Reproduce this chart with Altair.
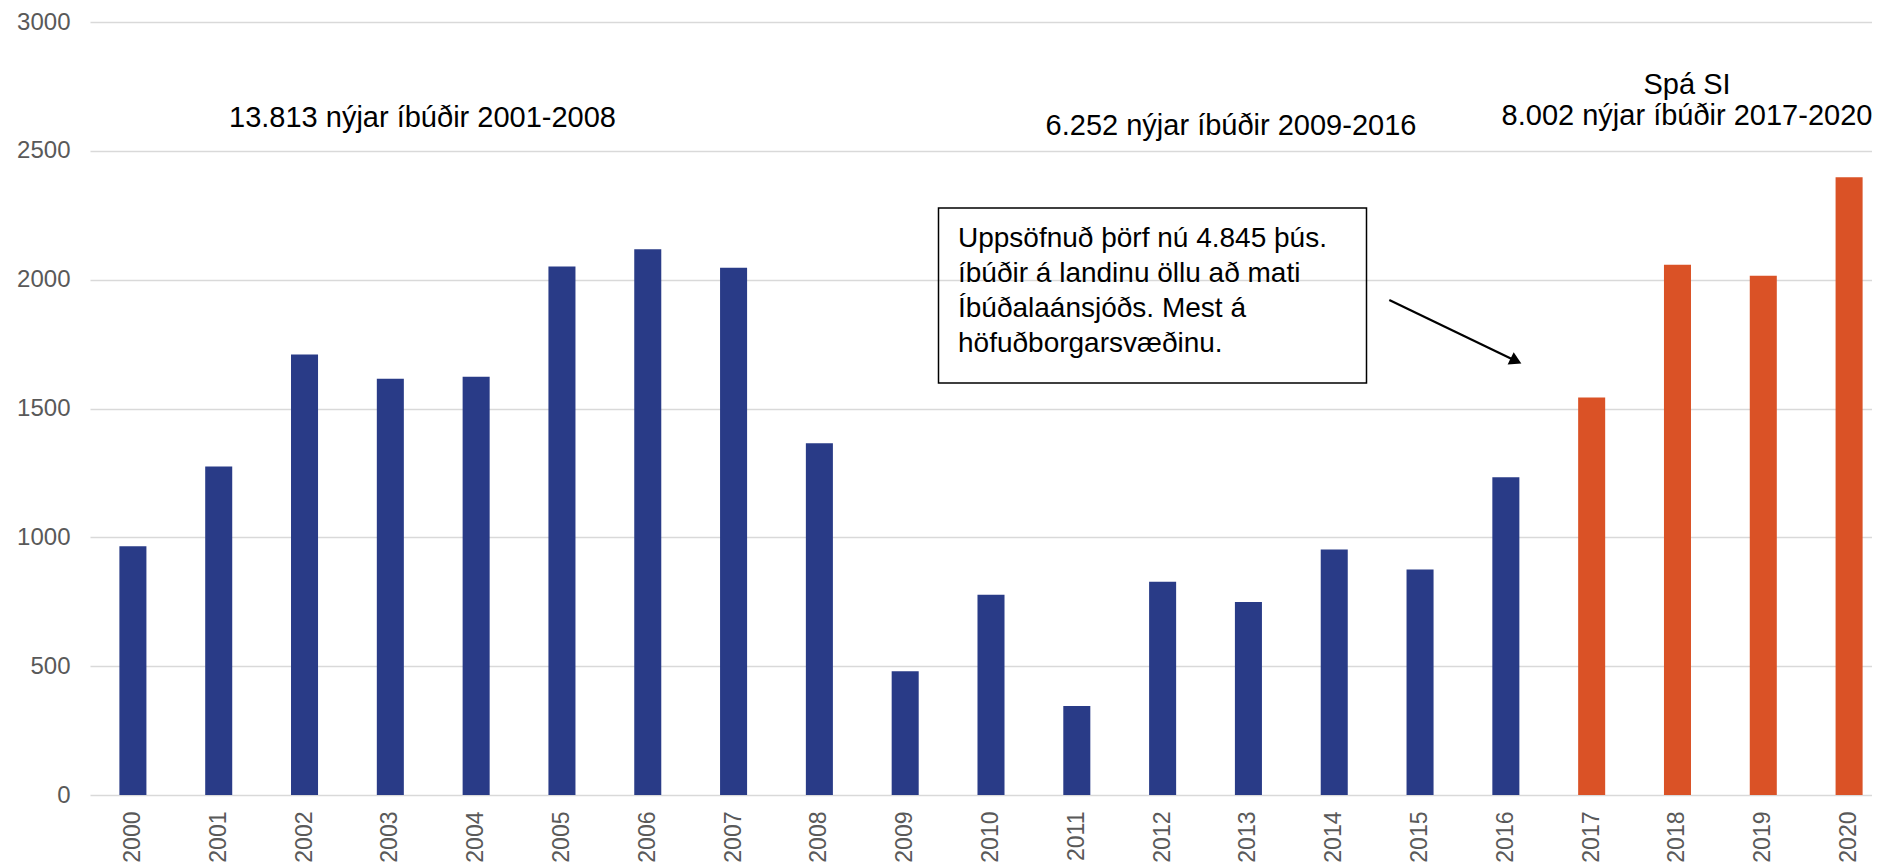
import altair as alt
import pandas as pd

years = [str(y) for y in range(2000, 2021)]
values = [965, 1275, 1710, 1615, 1623, 2051, 2118, 2046, 1365,
          480, 777, 345, 828, 749, 953, 875, 1233,
          1543, 2058, 2015, 2397]
groups = ["Raun"] * 17 + ["Spá"] * 4

ann_texts = ["13.813 nýjar íbúðir 2001-2008", "6.252 nýjar íbúðir 2009-2016",
             "Spá SI", "8.002 nýjar íbúðir 2017-2020"]
box_text = "Uppsöfnuð þörf nú 4.845 þús.\níbúðir á landinu öllu að mati\nÍbúðalaánsjóðs. Mest á\nhöfuðborgarsvæðinu."

df = pd.DataFrame({"year": years, "value": values, "group": groups})
one = pd.DataFrame({"k": [0]})

FONT = "Liberation Sans"
W, H = 1782, 773

bars = alt.Chart(df).mark_bar().encode(
    x=alt.X("year:N", sort=years, title=None,
            scale=alt.Scale(range=[0, 1802], paddingInner=0.685, paddingOuter=0.3425),
            axis=alt.Axis(labelAngle=-90, labelPadding=16, ticks=False, domain=False,
                          labelFont=FONT, labelFontSize=23, labelColor="#595959", grid=False)),
    y=alt.Y("value:Q", title=None,
            scale=alt.Scale(domain=[0, 3000], nice=False),
            axis=alt.Axis(values=[0, 500, 1000, 1500, 2000, 2500, 3000], format="d",
                          ticks=False, domain=False,
                          labelPadding=20, labelFont=FONT, labelFontSize=24, labelColor="#595959",
                          grid=True, gridColor="#D9D9D9", gridWidth=1.3)),
    color=alt.Color("group:N", scale=alt.Scale(domain=["Raun", "Spá"], range=["#293B87", "#DA5226"]),
                    legend=None),
)

def label(txt, x, y):
    return alt.Chart(one).mark_text(font=FONT, fontSize=29, fontWeight="normal", color="#000000",
                                    align="center", baseline="alphabetic").encode(
        x=alt.value(x), y=alt.value(y), text=alt.value(txt))

t1 = label(ann_texts[0], 332.5, 104.7)
t2 = label(ann_texts[1], 1141, 113)
t3 = label(ann_texts[2], 1597, 71.5)
t4 = label(ann_texts[3], 1597, 103)

box = alt.Chart(one).mark_rect(fill=None, stroke="#000000", strokeWidth=1.5, filled=False).encode(
    x=alt.value(848.5), x2=alt.value(1276.5), y=alt.value(186), y2=alt.value(361))

box_txt = alt.Chart(one).mark_text(font=FONT, fontSize=28, fontWeight="normal", color="#000000",
                                   align="left", baseline="alphabetic", lineBreak="\n",
                                   lineHeight=35).encode(
    x=alt.value(868), y=alt.value(224.7), text=alt.value(box_text))

arrow_line = alt.Chart(one).mark_rule(color="#000000", strokeWidth=2.2).encode(
    x=alt.value(1299.3), y=alt.value(278), x2=alt.value(1426), y2=alt.value(339))

arrow_head = alt.Chart(one).mark_point(shape="triangle-right", filled=True, color="#000000",
                                       size=190, angle=26, opacity=1).encode(
    x=alt.value(1426), y=alt.value(339))

chart = alt.layer(bars, t1, t2, t3, t4, box, box_txt, arrow_line, arrow_head).properties(
    width=W, height=H,
    autosize=alt.AutoSizeParams(type="none"),
    padding={"left": 82, "top": 14, "right": 0, "bottom": 72},
    background="#FFFFFF",
).configure_view(stroke=None)

chart.save("out.html", embed_options={"renderer": "svg", "actions": False})
